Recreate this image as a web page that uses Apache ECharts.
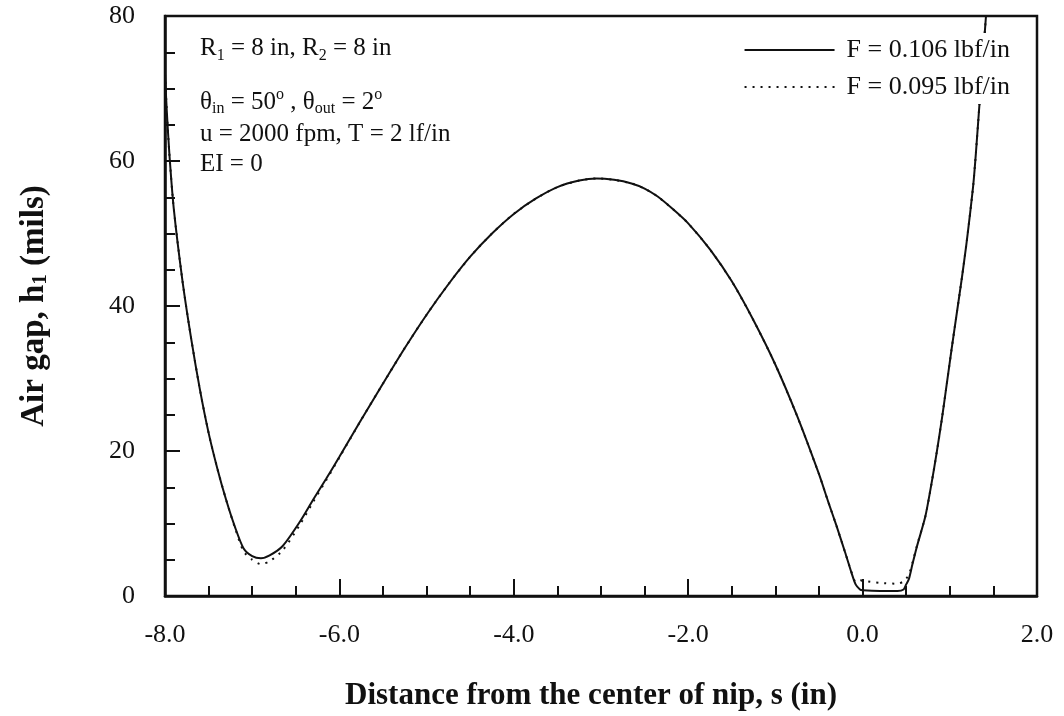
<!DOCTYPE html>
<html>
<head>
<meta charset="utf-8">
<script src="https://cdn.jsdelivr.net/npm/echarts@6/dist/echarts.min.js"></script>
<style>
html,body{margin:0;padding:0;background:#fff;}
#chart{width:1064px;height:716px;}
</style>
</head>
<body>
<div id="chart"></div>
<script>
// distance from the center of nip, s (in)
const sValues = [-8.0,-7.98,-7.95,-7.9,-7.8,-7.7,-7.6,-7.5,-7.4,-7.3,-7.2,-7.1,-7.0,-6.9,-6.8,-6.65,-6.45,-6.3,-6.15,-6.0,-5.75,-5.5,-5.25,-5.0,-4.75,-4.5,-4.25,-4.0,-3.75,-3.5,-3.25,-3.05,-2.85,-2.65,-2.5,-2.35,-2.17,-2.0,-1.75,-1.5,-1.25,-1.0,-0.75,-0.5,-0.4,-0.3,-0.2,-0.13,-0.08,-0.03,0.0,0.2,0.4,0.47,0.5,0.53,0.57,0.62,0.72,0.79,0.85,0.91,0.96,1.02,1.08,1.14,1.19,1.23,1.27,1.30,1.346,1.415];
// air gap h1 (mils), F = 0.106 lbf/in
const hF106 = [72,67,61,53.5,43.5,35.5,28.5,22.5,17.6,13.3,9.6,6.6,5.5,5.2,5.6,6.9,10.3,13.3,16.2,19.2,24.3,29.3,34.2,38.8,43.0,46.8,50.0,52.7,54.8,56.4,57.3,57.6,57.4,56.9,56.2,55.1,53.3,51.4,47.8,43.4,38.0,31.9,24.8,16.8,13.2,9.7,6.0,3.3,1.6,0.9,0.8,0.7,0.7,0.9,1.6,2.3,4.3,6.7,11.0,15.5,19.8,24.5,28.8,34.0,39.0,44.0,48.5,52.5,56.8,61.2,68.8,80];
// air gap h1 (mils), F = 0.095 lbf/in
const hF095 = [72,67,61,53.5,43.5,35.5,28.5,22.5,17.6,13.3,9.5,6.2,5.0,4.4,4.8,6.3,9.9,13.0,16.0,19.1,24.3,29.3,34.2,38.8,43.0,46.8,50.0,52.7,54.8,56.4,57.3,57.6,57.4,56.9,56.2,55.1,53.3,51.4,47.8,43.4,38.0,31.9,24.8,16.8,13.2,9.7,6.0,3.4,2.0,2.2,2.1,1.8,1.7,2.0,2.4,2.9,4.5,6.8,11.0,15.5,19.8,24.5,28.8,34.0,39.0,44.0,48.5,52.5,56.8,61.2,68.8,80];
const seriesNames = ['F = 0.106 lbf/in', 'F = 0.095 lbf/in'];
const xTicks = {min: -8, max: 2, interval: 2};
const yTicks = {min: 0, max: 80, interval: 20};

const serif = 'Liberation Serif';
const ink = '#111';

const chart = echarts.init(document.getElementById('chart'));
const pairs = (xs, ys) => xs.map((x, i) => [x, ys[i]]);

const annoRich = {
  m: {fontFamily: serif, fontSize: 25, color: ink, lineHeight: 30, verticalAlign: 'middle'},
  sub: {fontFamily: serif, fontSize: 16, color: ink, lineHeight: 14, verticalAlign: 'bottom'},
  sup: {fontFamily: serif, fontSize: 16, color: ink, lineHeight: 12, verticalAlign: 'top'}
};
function anno(text, y) {
  return {type: 'text', left: 200, top: y, z: 100,
    style: {text: text, rich: annoRich, fill: ink}};
}

chart.setOption({
  animation: false,
  backgroundColor: '#fff',
  grid: {left: 165, right: 27, top: 16, bottom: 118, show: true,
         borderColor: ink, borderWidth: 2.5, backgroundColor: 'transparent'},
  legend: {
    data: seriesNames, orient: 'vertical', right: 50, top: 33,
    itemWidth: 90, itemHeight: 14, itemGap: 11,
    backgroundColor: '#fff', padding: [4, 4, 4, 4],
    itemStyle: {opacity: 0},
    textStyle: {fontFamily: serif, fontSize: 26, color: ink, padding: [0, 0, 0, 7]}
  },
  xAxis: {
    type: 'value', min: xTicks.min, max: xTicks.max, interval: xTicks.interval,
    name: 'Distance from the center of nip, s (in)', nameLocation: 'middle', nameGap: 84,
    nameTextStyle: {fontFamily: serif, fontSize: 31, fontWeight: 'bold', color: ink, padding: [0, 20, 0, 0]},
    axisLine: {onZero: false, lineStyle: {color: ink, width: 2.5}},
    axisTick: {inside: true, length: 17, lineStyle: {color: ink, width: 2}},
    minorTick: {show: true, splitNumber: 4, length: 10, lineStyle: {color: ink, width: 2}},
    splitLine: {show: false},
    axisLabel: {fontFamily: serif, fontSize: 26, color: ink, margin: 26,
                formatter: v => v.toFixed(1)}
  },
  yAxis: {
    type: 'value', min: yTicks.min, max: yTicks.max, interval: yTicks.interval,
    name: 'Air gap, h{sub|1} (mils)', nameLocation: 'middle', nameGap: 114,
    nameTextStyle: {fontFamily: serif, fontSize: 33, fontWeight: 'bold', color: ink,
      rich: {sub: {fontFamily: serif, fontSize: 21, fontWeight: 'bold', color: ink, verticalAlign: 'bottom', lineHeight: 18}}},
    axisLine: {onZero: false, lineStyle: {color: ink, width: 2.5}},
    axisTick: {inside: true, length: 15, lineStyle: {color: ink, width: 2}},
    minorTick: {show: true, splitNumber: 4, length: 10, lineStyle: {color: ink, width: 2}},
    splitLine: {show: false},
    axisLabel: {fontFamily: serif, fontSize: 26, color: ink, margin: 30}
  },
  series: [
    {name: seriesNames[0], type: 'line', data: pairs(sValues, hF106), symbol: 'none',
     smooth: 0.25,
     lineStyle: {color: ink, width: 2}, itemStyle: {color: ink}, z: 2},
    {name: seriesNames[1], type: 'line', data: pairs(sValues, hF095), symbol: 'none',
     smooth: 0.25,
     lineStyle: {color: ink, width: 2, type: [2, 6]}, itemStyle: {color: ink}, z: 3}
  ],
  graphic: [
    anno('{m|R}{sub|1}{m| = 8 in, R}{sub|2}{m| = 8 in}', 36),
    anno('{m|θ}{sub|in}{m| = 50}{sup|o}{m| , θ}{sub|out}{m| = 2}{sup|o}', 87),
    anno('{m|u = 2000 fpm, T = 2 lf/in}', 122),
    anno('{m|EI = 0}', 152)
  ]
});
</script>
</body>
</html>
